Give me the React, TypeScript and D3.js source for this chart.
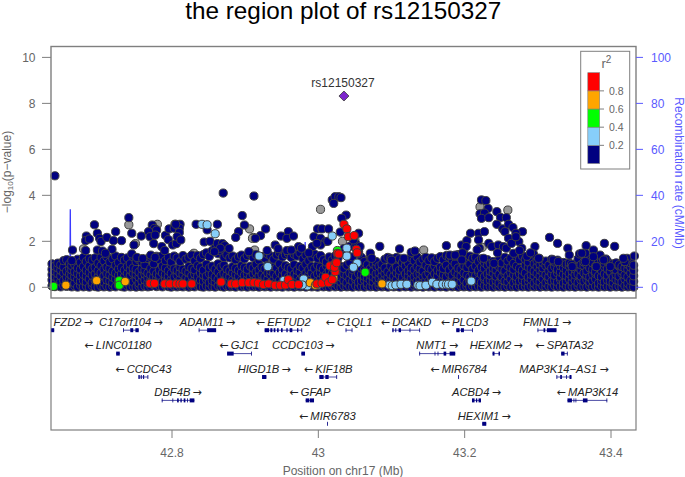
import React from "react";
import * as d3 from "d3";

const title = "the region plot of rs12150327";
const leadSnp = "rs12150327";
const leadPoint = [43.035, 8.32];
const yTicks = [0, 2, 4, 6, 8, 10];
const recombTicks = [0, 20, 40, 60, 80, 100];
const xTicks = [42.8, 43, 43.2, 43.4];
const legendTicks = [0.2, 0.4, 0.6, 0.8];
const legendColors = ["#000080", "#87CEFA", "#00FF00", "#FFA500", "#FF0000"];

// position (Mb), then -log10(p) of SNPs found around that position
const bandColumns: number[][] = [
[42.636,.06,.32,.55,.78,1.02],[42.64,.03,.2,.47,.7,.92],[42.644,.12,.38,.6,.85,1.05],[42.648,.02,.25,.5,.74,.98],[42.652,.08,.3,.62,.88,1.16],
[42.656,.04,.22,.44,.7,1.2],[42.66,.1,.35,.58,.82,1.02],[42.663,.02,.28,.52,.76,.95],[42.667,.06,.18,.46,.68,1.0],[42.671,.01,.33,.6,.84,1.22],
[42.675,.09,.26,.5,.78,1.08],[42.679,.02,.3,.56,.9,1.3],[42.683,.05,.24,.48,.74,1.12],[42.687,.01,.36,.64,.92,1.25],[42.691,.08,.2,.52,.8,1.18],
[42.695,.03,.3,.58,.86,1.28],[42.699,.01,.26,.46,.72,1.05],[42.703,.07,.34,.62,.94,1.3],[42.707,.02,.22,.5,.78,1.15],[42.711,.05,.32,.6,.88,1.32],
[42.715,.01,.28,.54,.82,1.1],[42.719,.06,.2,.44,.7,1.24],[42.723,.02,.36,.62,.96,1.36],[42.727,.09,.3,.52,.8,1.08],[42.731,.03,.24,.58,.86,1.3],
[42.735,.01,.34,.46,.74,1.18],[42.739,.07,.2,.6,.9,1.28],[42.743,.02,.3,.5,.76,1.02],[42.747,.05,.24,.62,.84,1.33],[42.751,.01,.36,.56,.78,1.12],
[42.755,.04,.18,.44,.66,1.2],[42.759,.02,.28,.52,.8,1.1],[42.763,.06,.32,.58,.74,.98],[42.767,.02,.2,.42,.62,1.25],[42.771,.04,.3,.54,.82,1.3],
[42.775,.1,.24,.46,.7,1.02],[42.779,.03,.16,.38,.58,1.35],[42.783,.06,.3,.52,.74,1.2],[42.787,.02,.24,.62,.92,1.38],[42.791,.08,.36,.56,.84,1.16],
[42.795,.03,.18,.48,.72,1.3],[42.799,.01,.32,.6,.96,1.1],[42.803,.06,.26,.44,.8,1.36],[42.807,.02,.22,.52,.74,1.28],[42.811,.05,.34,.62,.88,1.12],
[42.815,.02,.2,.56,.78,1.38],[42.819,.07,.28,.42,.7,1.22],[42.823,.01,.36,.64,.9,1.3],[42.827,.04,.22,.5,.82,1.4],[42.831,.02,.3,.58,.76,1.15],
[42.835,.08,.18,.46,.94,1.38],[42.839,.03,.32,.62,.86,1.26],[42.843,.01,.26,.54,.74,1.42],[42.847,.06,.36,.48,1.0,1.5],[42.851,.02,.2,.6,.84,1.34],
[42.855,.05,.3,.56,.92,1.6],[42.859,.01,.24,.44,.78,1.72],[42.863,.07,.34,.66,1.02,1.46],[42.867,.03,.2,.5,.88,1.58],[42.871,.01,.28,.6,.96,1.3],
[42.875,.06,.36,.52,.8,1.42],[42.879,.02,.22,.46,.72,1.28],[42.883,.04,.32,.62,.9,1.36],[42.887,.01,.26,.56,.82,1.2],[42.891,.08,.18,.48,.74,1.32],
[42.895,.02,.3,.64,.94,1.4],[42.899,.05,.24,.52,.86,1.24],[42.903,.01,.36,.6,.78,1.38],[42.907,.06,.2,.44,.92,1.46],[42.911,.02,.28,.58,.84,1.3],
[42.915,.04,.34,.66,1.0,1.42],[42.919,.01,.22,.5,.76,1.18],[42.923,.07,.3,.56,.88,1.34],[42.927,.02,.26,.46,.8,1.26],[42.931,.05,.36,.62,.96,1.44],
[42.935,.01,.18,.54,.72,1.36],[42.939,.06,.32,.6,.9,1.22],[42.943,.02,.24,.48,.84,1.4],[42.947,.04,.3,.64,1.02,1.5],[42.951,.01,.2,.52,.78,1.32],
[42.955,.08,.34,.58,.94,1.42],[42.959,.02,.26,.44,.86,1.48],[42.963,.05,.36,.62,.8,1.3],[42.967,.01,.22,.56,.98,1.44],[42.971,.06,.28,.5,.74,1.36],
[42.975,.02,.32,.66,.92,1.5],[42.979,.04,.18,.46,.84,1.24],[42.983,.01,.3,.6,1.0,1.4],[42.987,.07,.24,.54,.76,1.16],[42.991,.02,.36,.62,.9,1.3],
[42.995,.05,.2,.48,.82,1.44],[42.999,.01,.28,.58,.96,1.26],[43.003,.06,.34,.64,.88,1.38],[43.007,.02,.22,.5,.78,1.2],[43.011,.04,.3,.56,.94,1.1],
[43.015,.01,.26,.46,.72,1.32],[43.019,.08,.36,.6,.86,1.18],[43.023,.02,.18,.52,.8,1.36],[43.027,.05,.32,.66,1.0,1.28],[43.031,.01,.24,.44,.9,1.5],
[43.035,.06,.3,.58,.82,1.68],[43.039,.02,.2,.5,.96,1.44],[43.043,.04,.34,.62,1.08,1.78],[43.047,.01,.26,.54,.78,1.32],[43.051,.07,.36,.46,.92,1.9],
[43.055,.02,.22,.6,1.02,1.55],[43.059,.05,.28,.56,.84,1.3],[43.063,.01,.32,.48,.74,1.12],[43.067,.06,.18,.42,.66,.98],[43.071,.02,.3,.54,.8,1.28],
[43.075,.04,.24,.46,.7,1.02],[43.079,.01,.34,.58,.9,1.12],[43.083,.06,.2,.4,.64,.92],[43.087,.02,.28,.5,.76,1.0],[43.091,.05,.36,.6,.84,1.22],
[43.095,.01,.22,.44,.68,1.3],[43.099,.07,.3,.56,.92,1.26],[43.103,.02,.26,.48,.78,1.16],[43.107,.04,.34,.62,.88,1.3],[43.111,.01,.18,.52,.74,1.24],
[43.115,.06,.32,.42,.82,1.08],[43.119,.02,.24,.58,.94,1.2],[43.123,.05,.3,.5,.72,1.06],[43.127,.01,.36,.64,.86,1.28],[43.131,.07,.2,.46,.76,1.16],
[43.135,.02,.28,.56,.9,1.32],[43.139,.04,.34,.6,.8,1.1],[43.143,.01,.22,.48,.7,1.22],[43.147,.06,.3,.52,.96,1.3],[43.151,.02,.26,.62,.84,1.16],
[43.155,.05,.36,.44,.78,1.28],[43.159,.01,.18,.58,.92,1.12],[43.163,.06,.32,.5,.74,1.26],[43.167,.02,.24,.64,.88,1.34],[43.171,.04,.28,.54,.82,1.2],
[43.175,.01,.34,.46,.96,1.38],[43.179,.07,.2,.6,.76,1.3],[43.183,.02,.3,.52,.9,1.18],[43.187,.05,.26,.66,1.02,1.36],[43.191,.01,.36,.56,.84,1.42],
[43.195,.06,.22,.48,.78,1.28],[43.199,.02,.32,.62,.94,1.46],[43.203,.04,.18,.54,.86,1.2],[43.207,.01,.28,.44,1.0,1.36],[43.211,.06,.34,.6,.8,1.26],
[43.215,.02,.24,.5,.92,1.3],[43.219,.05,.3,.64,.74,1.12],[43.223,.01,.2,.56,.88,1.24],[43.227,.07,.36,.46,.82,1.08],[43.231,.02,.26,.58,.96,1.2],
[43.235,.04,.32,.52,.7,1.02],[43.239,.01,.22,.62,.84,1.12],[43.243,.06,.3,.48,.76,1.0],[43.247,.02,.18,.56,.9,1.18],[43.251,.05,.34,.44,.8,1.06],
[43.255,.01,.28,.6,.72,1.3],[43.259,.06,.24,.5,.94,1.14],[43.263,.02,.36,.64,.86,1.26],[43.267,.04,.2,.54,.78,1.04],[43.271,.01,.3,.46,.92,1.34],
[43.275,.07,.26,.58,.82,1.2],[43.279,.02,.32,.52,.74,1.36],[43.283,.05,.22,.62,.96,1.22],[43.287,.01,.28,.44,.88,1.1],[43.291,.06,.34,.56,.8,1.3],
[43.295,.02,.18,.5,.7,1.02],[43.299,.04,.3,.6,.9,1.16],[43.303,.01,.24,.48,.76,1.0],[43.307,.06,.36,.64,.84,1.08],[43.311,.02,.2,.54,.94,1.14],
[43.315,.05,.32,.46,.72,.96],[43.319,.01,.26,.58,.82,1.22],[43.323,.07,.3,.52,.9,1.1],[43.327,.02,.22,.62,.78,1.18],[43.331,.04,.34,.44,.66,.94],
[43.335,.01,.18,.56,.86,1.08],[43.339,.06,.28,.5,.74,1.0],[43.343,.02,.36,.6,.92,1.06],[43.347,.05,.24,.46,.7,.96],[43.351,.01,.3,.54,.8,1.02],
[43.355,.06,.2,.58,.88,1.24],[43.359,.02,.32,.48,.76,.98],[43.363,.04,.26,.62,.94,1.1],[43.367,.01,.34,.52,.72,1.0],[43.371,.07,.22,.44,.84,1.26],
[43.375,.02,.28,.56,.78,1.06],[43.379,.05,.36,.6,.68,.92],[43.383,.01,.18,.5,.86,1.12],[43.387,.06,.3,.46,.74,1.2],[43.391,.02,.24,.58,.9,1.04],
[43.395,.04,.32,.52,.8,1.14],[43.399,.01,.26,.64,.7,.94],[43.403,.06,.2,.44,.82,1.02],[43.407,.02,.34,.56,.76,1.06],[43.411,.05,.28,.48,.92,.98],
[43.415,.01,.22,.6,.72,.9],[43.419,.07,.36,.54,.84,1.1],[43.423,.02,.18,.46,.78,1.0],[43.427,.04,.3,.62,.88,1.06],[43.431,.01,.26,.5,.74,.96],
];

const navyUpper: number[][] = [
[42.64,4.85],[42.664,1.62],[42.683,2.23],[42.682,2.03],[42.687,2.1],[42.694,2.72],[42.698,2.35],[42.701,2.13],[42.703,1.99],[42.711,2.17],[42.72,2.03],[42.723,2.42],[42.731,2.03],[42.718,1.65],[42.682,1.6],[42.698,1.62],[42.705,1.58],[42.709,1.48],[42.663,1.16],
[42.741,3.03],[42.745,2.35],[42.748,1.84],[42.758,2.23],[42.745,1.45],[42.752,1.3],[42.76,1.25],[42.773,2.71],[42.776,2.56],[42.779,2.49],[42.768,2.42],[42.77,2.2],[42.777,2.27],[42.775,1.9],[42.771,1.4],[42.777,1.3],
[42.791,2.26],[42.795,2.07],[42.801,1.84],[42.786,1.77],[42.806,1.9],[42.796,2.54],[42.803,2.57],[42.811,2.74],[42.81,2.57],[42.81,2.38],[42.805,2.74],[42.807,2.2],[42.812,2.06],[42.79,1.6],
[42.833,2.74],[42.862,2.74],[42.848,2.5],[42.844,1.97],[42.852,2.0],[42.862,1.9],[42.869,1.9],[42.872,1.81],[42.878,1.69],[42.866,1.7],[42.858,1.55],
[42.87,4.1],[42.896,3.12],[42.899,2.71],[42.891,2.42],[42.887,2.17],[42.912,3.97],[42.928,2.54],[42.921,2.25],[42.914,2.13],[42.941,1.84],[42.949,2.23],[42.959,2.42],[42.957,2.13],[42.966,2.23],[42.973,1.77],[42.977,1.7],[42.945,1.68],[42.905,1.55],[42.93,1.6],[42.957,1.6],[42.963,1.62],
[42.999,2.54],[43.005,2.54],[43.014,2.54],[42.994,2.2],[43.003,2.13],[43.01,1.99],[43.003,1.84],[42.992,1.77],[42.998,1.91],[42.987,1.5],[43.013,2.0],[43.019,3.8],[43.023,3.94],[43.021,3.65],[43.028,3.94],[43.031,3.9],[43.038,3.14],[43.032,3.0],
[43.03,2.4],[43.055,2.35],[43.048,2.06],[43.057,1.77],[43.055,1.48],[43.071,1.48],[43.073,1.26],[43.084,1.78],[43.111,1.67],[43.127,1.52],[43.132,1.58],[43.1,1.18],[43.117,1.26],[43.175,1.81],[43.196,1.84],[43.203,2.03],[43.202,1.77],[43.208,2.35],[43.219,2.35],[43.227,2.42],[43.219,2.06],[43.22,1.7],[43.217,1.63],[43.233,1.91],[43.237,1.77],[43.246,1.84],[43.253,1.77],[43.257,1.7],[43.197,1.5],[43.18,1.4],
[43.223,3.8],[43.229,3.77],[43.232,3.43],[43.221,3.2],[43.227,3.23],[43.223,3.0],[43.233,3.03],[43.244,3.29],[43.249,3.04],[43.257,3.03],[43.244,2.74],[43.252,2.54],[43.26,2.74],[43.266,2.6],[43.255,2.42],[43.279,2.42],[43.27,2.35],[43.26,2.13],[43.274,1.99],[43.278,1.7],[43.264,1.91],[43.267,1.48],[43.296,1.77],[43.294,1.45],[43.302,1.26],[43.316,2.17],[43.327,1.91],[43.341,1.7],[43.343,1.4],[43.346,1.0],[43.357,1.45],[43.366,1.81],[43.365,1.48],[43.365,1.12],[43.376,1.62],[43.385,1.4],[43.393,1.23],[43.391,1.91],[43.405,1.78],[43.422,1.26],[43.432,1.36],[43.419,1.12],[43.38,.9],[43.399,.9],[43.27,2.2],[43.275,1.6],[43.285,1.35],[43.29,1.5],[43.245,1.5],
[43.187,1.4],[43.196,1.19],[43.226,1.26],[43.24,1.04],[43.301,1.26],[43.321,1.19],[43.328,1.12],[43.347,.9],[43.36,1.48],[43.376,1.33],[43.39,1.19],[43.417,1.26],
];

const grayPts: number[][] = [
[43.003,3.39],[42.906,2.54],[42.911,2.17],[42.91,2.13],[42.741,2.72],[42.78,2.74],[42.804,2.74],[42.75,1.9],[42.679,1.67],[42.769,.83],[42.784,1.0],[42.913,1.62],[42.83,1.48],[42.867,.83],[43.033,2.0],[43.05,2.06],[43.144,1.62],[43.259,3.36],[43.221,3.5],[43.224,1.74],
];
const lightBluePts: number[][] = [
[42.841,2.74],[42.848,2.72],[42.859,2.33],[43.019,2.23],[42.919,1.36],[42.931,.9],[42.98,.36],[42.953,.3],[42.985,.06],[42.978,.1],[43.039,1.7],[43.039,1.36],[43.053,1.05],[43.048,.87],[42.999,.1],
[43.097,.1],[43.101,.07],[43.106,.1],[43.113,.13],[43.121,.13],[43.136,.09],[43.139,.07],[43.147,.09],[43.156,.22],[43.162,.13],[43.17,.13],[43.175,.13],[43.178,.13],[43.183,.13],[43.209,.27],
];
const greenPts: number[][] = [[42.638,.04],[42.728,.29],[42.728,.09],[43.026,1.6],[43.064,.65]];
const orangePts: number[][] = [[42.655,.09],[42.697,.29],[42.736,.25],[42.989,.2],[42.996,.09],[43.087,.15],[43.021,.4]];
const redPts: number[][] = [
[42.77,.17],[42.776,.17],[42.79,.15],[42.797,.15],[42.806,.15],[42.811,.15],[42.815,.15],[42.827,.15],[42.867,.23],[42.881,.15],[42.887,.15],[42.896,.2],[42.905,.2],[42.912,.2],[42.918,.18],[42.925,.12],[42.932,.15],[42.941,.09],[42.948,.09],[42.955,.1],[42.959,.33],[42.964,.12],[42.973,.12],
[42.998,.15],[43.005,.18],[43.01,.43],[43.014,.2],[43.019,.33],[43.016,.93],[43.023,1.04],[43.023,.68],[43.022,.87],[43.026,1.48],[43.028,1.45],[43.025,1.07],[43.035,2.74],[43.039,2.54],[43.041,2.2],[43.049,2.25],[43.052,1.65],[43.053,1.5],
];

const recombPos = [42.635, 42.655, 42.6605, 42.661, 42.6615, 42.67, 42.9, 42.981, 42.982, 42.983, 43.03, 43.2, 43.434];
const recombRate = [3, 4, 6, 34, 5, 3, 4, 5, 19.7, 5, 6, 4, 3];

const geneNames = ["FZD2","C17orf104","ADAM11","EFTUD2","C1QL1","DCAKD","PLCD3","FMNL1","LINC01180","GJC1","CCDC103","NMT1","HEXIM2","SPATA32","CCDC43","HIGD1B","KIF18B","MIR6784","MAP3K14\u2212AS1","DBF4B","GFAP","ACBD4","MAP3K14","MIR6783","HEXIM1"];
const geneRows = [0,0,0,0,0,0,0,0,1,1,1,1,1,1,2,2,2,2,2,3,3,3,3,4,4];
const geneStrands = [1,1,1,-1,-1,-1,-1,1,-1,-1,1,1,1,-1,-1,1,-1,-1,1,1,-1,1,-1,-1,1];
const geneExons: number[][][] = [
[[42.635,42.639]],
[[42.7332,42.7341],[42.743,42.747],[42.75,42.7545]],
[[42.8365,42.8375],[42.848,42.8603]],
[[42.9266,42.9327],[42.9344,42.9372],[42.939,42.9413],[42.9436,42.9458],[42.949,42.9512],[42.9563,42.9581],[42.9608,42.9645],[42.9709,42.9727],[42.9768,42.9777]],
[[43.0373,43.0382],[43.0455,43.0464]],
[[43.1011,43.1029],[43.1052,43.1065],[43.1097,43.113],[43.1247,43.1257],[43.138,43.1389]],
[[43.1885,43.193],[43.1949,43.199],[43.21,43.2108]],
[[43.2996,43.3005],[43.3078,43.3101],[43.3124,43.3255]],
[[42.7237,42.7286]],
[[42.8753,42.8843],[42.9081,42.9085]],
[[42.9768,42.9818]],
[[43.138,43.1387],[43.1589,43.1596],[43.163,43.1637],[43.1712,43.1748],[43.1794,43.1871]],
[[43.2381,43.2408],[43.2463,43.2482]],
[[43.3319,43.3365],[43.3397,43.3405]],
[[42.7541,42.7559],[42.7573,42.7586],[42.7605,42.7619],[42.7665,42.7674]],
[[42.9231,42.929]],
[[43.0014,43.0072],[43.0096,43.0141],[43.0246,43.0255]],
[[43.1912,43.1922]],
[[43.3255,43.3264],[43.3306,43.3329],[43.3388,43.3395],[43.3433,43.346]],
[[42.786,42.7869],[42.8006,42.8015],[42.807,42.8092],[42.8115,42.8133],[42.816,42.8183],[42.8206,42.821],[42.8242,42.8306]],
[[42.9827,42.9873],[42.9881,42.9941]],
[[43.21,43.2135],[43.2154,43.2172],[43.219,43.2223]],
[[43.3405,43.3466],[43.3488,43.3494],[43.3515,43.3521],[43.3616,43.3679],[43.3938,43.3948]],
[[43.0119,43.0127]],
[[43.224,43.2295]],
];
const fzd2LabelPos = 42.665;

const GREY = "#7f7f7f";
const TEXT = "#666666";
const BLUE = "#5a5aff";
const FONT = "'Liberation Sans', Arial, sans-serif";

const x = d3.scaleLinear().domain([42.8, 43.4]).range([172, 611]);
const y = d3.scaleLinear().domain([0, 10]).range([287.3, 57.4]);
const yR = d3.scaleLinear().domain([0, 100]).range([287.3, 57.4]);
const legendY = d3.scaleLinear().domain([0, 1]).range([163.5, 72.7]);
const PANEL = { left: 51, right: 636, top: 46.5, bottom: 298 };
const GENES = { top: 313.5, bottom: 430 };
const rowLabelY = (r: number) => 326 + r * 23.4;
const rowBarY = (r: number) => 330.2 + r * 23.4;

const Dot = ({ p, fill }: { p: number[]; fill: string }) => (
  <circle cx={x(p[0])} cy={y(p[1])} r={4.1} fill={fill} stroke="#404040" strokeWidth={1} />
);

const Arrow = ({ c }: { c: string }) => (
  <tspan fontFamily="'DejaVu Sans'" fontStyle="normal" fontSize={11}>{c}</tspan>
);

export default function App() {
  const band: number[][] = bandColumns.flatMap((c) => c.slice(1).map((v) => [c[0], v]));
  const recombLine = d3.line<number>().x((p) => x(p)).y((_, i) => yR(recombRate[i]));
  const diamond = d3.symbol().type(d3.symbolSquare).size(50)() as string;
  return (
    <svg width={685} height={477} style={{ position: "absolute", left: 0, top: 0 }} fontFamily={FONT}>
      <rect width={685} height={477} fill="#fff" />
      <text x={343.3} y={18.5} textAnchor="middle" fontSize={24.3} fill="#000">{title}</text>

      <path d={recombLine(recombPos) as string} fill="none" stroke="#3a3aff" strokeWidth={1.3} />
      <g>
        {grayPts.map((p, i) => <Dot key={i} p={p} fill="#999999" />)}
        {band.map((p, i) => <Dot key={i} p={p} fill="#000080" />)}
        {navyUpper.map((p, i) => <Dot key={i} p={p} fill="#000080" />)}
        {lightBluePts.map((p, i) => <Dot key={i} p={p} fill="#87CEFA" />)}
        {greenPts.map((p, i) => <Dot key={i} p={p} fill="#00FF00" />)}
        {orangePts.map((p, i) => <Dot key={i} p={p} fill="#FFA500" />)}
        {redPts.map((p, i) => <Dot key={i} p={p} fill="#FF0000" />)}
      </g>
      <path d={diamond} transform={`translate(${x(leadPoint[0])},${y(leadPoint[1])}) rotate(45)`} fill="#7D26CD" stroke="#404040" strokeWidth={0.8} />
      <text x={343} y={87} textAnchor="middle" fontSize={12} fill="#333">{leadSnp}</text>

      <rect x={PANEL.left} y={PANEL.top} width={PANEL.right - PANEL.left} height={PANEL.bottom - PANEL.top} fill="none" stroke={GREY} strokeWidth={1.4} />
      {yTicks.map((t) => (
        <g key={t}>
          <line x1={42} x2={PANEL.left} y1={y(t)} y2={y(t)} stroke={GREY} />
          <text x={35.5} y={y(t) + 4.4} textAnchor="end" fontSize={12} fill={TEXT}>{t}</text>
        </g>
      ))}
      {recombTicks.map((t) => (
        <g key={t}>
          <line x1={PANEL.right} x2={643} y1={yR(t)} y2={yR(t)} stroke={BLUE} />
          <text x={651} y={yR(t) + 4.4} fontSize={12} fill={BLUE}>{t}</text>
        </g>
      ))}
      <text transform="translate(10.5,172) rotate(-90)" textAnchor="middle" fontSize={12} fill={TEXT}>
        {"\u2212log"}<tspan fontSize={8} dy={2}>10</tspan><tspan dy={-2}>{"(p\u2212value)"}</tspan>
      </text>
      <text transform="translate(675,173) rotate(90)" textAnchor="middle" fontSize={12} fill={BLUE}>Recombination rate (cM/Mb)</text>

      <rect x={580.7} y={51.3} width={49} height={117.7} fill="#fff" stroke={GREY} strokeWidth={1} />
      {legendColors.map((c, i) => (
        <rect key={c} x={587.8} y={legendY((i + 1) / 5)} width={11.9} height={legendY(i / 5) - legendY((i + 1) / 5)} fill={c} stroke={GREY} strokeWidth={0.6} />
      ))}
      {legendTicks.map((t) => (
        <g key={t}>
          <line x1={599.7} x2={604} y1={legendY(t)} y2={legendY(t)} stroke={GREY} />
          <text x={609} y={legendY(t) + 3.8} fontSize={10.5} fill={TEXT}>{t}</text>
        </g>
      ))}
      <text x={601.5} y={67.7} fontSize={13} fill={TEXT}>r<tspan fontSize={10} dy={-4.5}>2</tspan></text>

      <rect x={PANEL.left} y={GENES.top} width={PANEL.right - PANEL.left} height={GENES.bottom - GENES.top} fill="none" stroke={GREY} strokeWidth={1.2} />
      {geneNames.map((name, i) => {
        const exons = geneExons[i];
        const start = exons[0][0];
        const end = exons[exons.length - 1][1];
        const barY = rowBarY(geneRows[i]);
        const centre = name === "FZD2" ? fzd2LabelPos : (start + end) / 2;
        return (
          <g key={name}>
            <line x1={x(start)} x2={x(end)} y1={barY} y2={barY} stroke="#000080" strokeWidth={0.7} />
            {exons.map((e, j) => (
              <rect key={j} x={x(e[0])} y={barY - 2} width={Math.max(x(e[1]) - x(e[0]), 0.8)} height={4} fill="#000080" />
            ))}
            <text x={x(centre)} y={rowLabelY(geneRows[i])} textAnchor="middle" fontSize={11.2} fontStyle="italic" fill="#222">
              {geneStrands[i] < 0 ? <Arrow c={"\u2190"} /> : null}
              {geneStrands[i] < 0 ? "\u2009" : ""}{name}{geneStrands[i] > 0 ? "\u2009" : ""}
              {geneStrands[i] > 0 ? <Arrow c={"\u2192"} /> : null}
            </text>
          </g>
        );
      })}
      {xTicks.map((t) => (
        <g key={t}>
          <line x1={x(t)} x2={x(t)} y1={GENES.bottom} y2={438} stroke={GREY} />
          <text x={x(t)} y={457} textAnchor="middle" fontSize={12} fill={TEXT}>{t}</text>
        </g>
      ))}
      <text x={343} y={474.5} textAnchor="middle" fontSize={12} fill={TEXT}>Position on chr17 (Mb)</text>
    </svg>
  );
}
